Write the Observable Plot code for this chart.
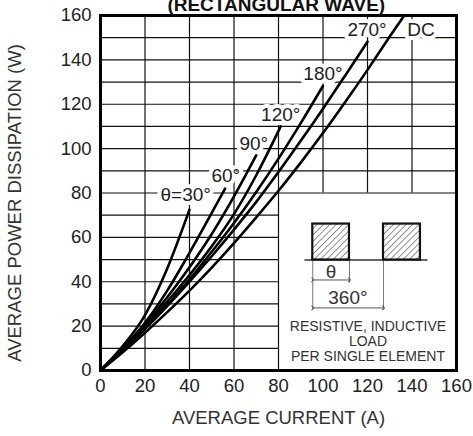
<!DOCTYPE html>
<html><head><meta charset="utf-8">
<script src="https://cdn.jsdelivr.net/npm/d3@7"></script>
<script src="https://cdn.jsdelivr.net/npm/@observablehq/plot@0.6"></script>
<style>body{margin:0;background:#fff;overflow:hidden}</style>
</head><body><div id="chart"></div>
<script>
const titleText = "(RECTANGULAR WAVE)";
const xLabel = "AVERAGE CURRENT (A)";
const yLabel = "AVERAGE POWER DISSIPATION (W)";
const xTicks = [0, 20, 40, 60, 80, 100, 120, 140, 160];
const yTicks = [0, 20, 40, 60, 80, 100, 120, 140, 160];
const gridX = [20, 40, 60, 80, 100, 120, 140];
const gridY = [10, 20, 30, 40, 50, 60, 70, 80, 90, 100, 110, 120, 130, 140, 150];

// curves: average current (A) vs average power (W)
const current30 = [0, 10, 20, 30, 40];
const power30   = [0, 11, 25, 46, 72.5];
const current60 = [0, 10, 20, 30, 40, 50, 56];
const power60   = [0, 10, 21.5, 36, 53, 71, 82];
const current90 = [0, 10, 20, 30, 40, 50, 60, 70];
const power90   = [0, 9.8, 20.8, 33, 46.5, 61.5, 78.5, 97];
const current120 = [0, 10, 20, 30, 40, 50, 60, 70, 81];
const power120   = [0, 9.5, 20, 31, 43, 56, 70.5, 88, 110];
const current180 = [0, 10, 20, 30, 40, 50, 60, 70, 80, 90, 100];
const power180   = [0, 9.3, 19, 29.5, 41, 53.5, 66.5, 80.5, 95.5, 111.5, 128.3];
const current270 = [0, 10, 20, 30, 40, 50, 60, 70, 80, 90, 100, 110, 120];
const power270   = [0, 9.2, 18.7, 29, 40, 51.5, 63.5, 76, 89.5, 103.5, 118, 133, 148.2];
const currentDC = [0, 10, 20, 30, 40, 50, 60, 70, 80, 90, 100, 110, 120, 130, 136.5];
const powerDC   = [0, 8.2, 17, 26.3, 36, 46.4, 57.4, 69, 81, 93.7, 107, 121, 135.5, 150.5, 160];

const seriesNames = ["θ=30°", "60°", "90°", "120°", "180°", "270°", "DC"];
const seriesCurrents = [current30, current60, current90, current120, current180, current270, currentDC];
const seriesPowers = [power30, power60, power90, power120, power180, power270, powerDC];
const labelX = [38.3, 56.3, 68.9, 81, 100, 119.8, 144];
const labelY = [79, 87.8, 102, 115.3, 133.5, 153.6, 153.4];

// inset (waveform sketch)
const pulseStart = [95.4, 127.2];
const pulseEnd = [111.9, 143.8];
const pulseLow = 49.8, pulseHigh = 66.0;
const baseLineX = [91.9, 147.2];
const extX = [95.4, 111.9, 127.2];
const extBottom = [27.3, 39.4, 27.3];
const dimArrows = [{x1: 95.4, x2: 111.9, y: 40.8}, {x1: 95.4, x2: 127.2, y: 28.2}];
const dimTexts = ["θ", "360°"];
const dimTextX = [103.6, 111.2];
const dimTextY = [44.5, 32.7];
const noteLines = ["RESISTIVE, INDUCTIVE", "LOAD", "PER SINGLE ELEMENT"];
const noteX = 120.2;
const noteY = [19.7, 12.95, 6.2];

const curves = seriesNames.flatMap((s, k) => seriesCurrents[k].map((c, i) => ({s, c, p: seriesPowers[k][i]})));
const labels = seriesNames.map((s, k) => ({s, x: labelX[k], y: labelY[k]}));
const pulses = pulseStart.map((x1, i) => ({x1, x2: pulseEnd[i]}));
const font = "Liberation Sans, Arial, Helvetica, sans-serif";

const svg = Plot.plot({
  width: 473, height: 436,
  marginTop: 15, marginRight: 17, marginBottom: 66, marginLeft: 100,
  style: {fontFamily: font, fontSize: "18.5px", color: "#222", background: "white"},
  x: {domain: [0, 160], ticks: xTicks, tickSize: 0, tickPadding: 8, label: null},
  y: {domain: [0, 160], ticks: yTicks, tickSize: 0, tickPadding: 9, label: null},
  marks: [
    Plot.ruleX(gridX, {x: d => d, y1: d => d > 80 ? 80 : 0, y2: 160, stroke: "#111", strokeWidth: 1.2}),
    Plot.ruleY(gridY, {y: d => d, x1: 0, x2: d => d < 80 ? 80 : 160, stroke: "#111", strokeWidth: 1.2}),
    Plot.text(labels, {x: "x", y: "y", text: "s", fontSize: 19, fill: "#222", stroke: "white", strokeWidth: 8, lineAnchor: "middle", textAnchor: "middle"}),
    Plot.line(curves, {x: "c", y: "p", z: "s", stroke: "black", strokeWidth: 2.6, curve: "monotone-x"}),
    // inset
    Plot.ruleY([pulseLow], {x1: baseLineX[0], x2: baseLineX[1], stroke: "#666", strokeWidth: 1.8}),
    Plot.ruleX(extX, {x: d => d, y1: (d, i) => extBottom[i], y2: pulseLow, stroke: "#777", strokeWidth: 1}),
    Plot.rect(pulses, {x1: "x1", x2: "x2", y1: pulseLow, y2: pulseHigh, fill: "url(#hatch)", stroke: "#111", strokeWidth: 2.2}),
    Plot.link(dimArrows, {x1: "x1", x2: "x2", y1: "y", y2: "y", stroke: "#555", strokeWidth: 1, markerStart: "arrow", markerEnd: "arrow"}),
    Plot.text(dimTexts, {x: (d, i) => dimTextX[i], y: (d, i) => dimTextY[i], text: d => d, fontSize: 19, fill: "#333", lineAnchor: "middle"}),
    Plot.text(noteLines, {x: noteX, y: (d, i) => noteY[i], text: d => d, fontSize: 14, fill: "#333", lineAnchor: "middle"}),
    Plot.frame({stroke: "black", strokeWidth: 3}),
    // axis titles
    Plot.text([xLabel], {frameAnchor: "bottom", dy: 48, text: d => d, fontSize: 18.5, fill: "#333", lineAnchor: "middle"}),
    Plot.text([yLabel], {frameAnchor: "left", dx: -85, dy: 10, text: d => d, rotate: -90, textAnchor: "middle", fontSize: 18.5, fill: "#333", lineAnchor: "middle"}),
    Plot.text([titleText], {x: 79, frameAnchor: "top", dy: -5, text: d => d, fontSize: 19, fontWeight: "bold", fill: "#111", lineAnchor: "bottom"})
  ]
});
const ns = "http://www.w3.org/2000/svg";
const defs = document.createElementNS(ns, "defs");
defs.innerHTML = '<pattern id="hatch" width="4.5" height="4.5" patternUnits="userSpaceOnUse" patternTransform="rotate(45)"><rect width="4.5" height="4.5" fill="white"/><line x1="0" y1="0" x2="0" y2="4.5" stroke="#222" stroke-width="1"/></pattern>';
svg.insertBefore(defs, svg.firstChild);
document.getElementById("chart").append(svg);
</script>
</body></html>
